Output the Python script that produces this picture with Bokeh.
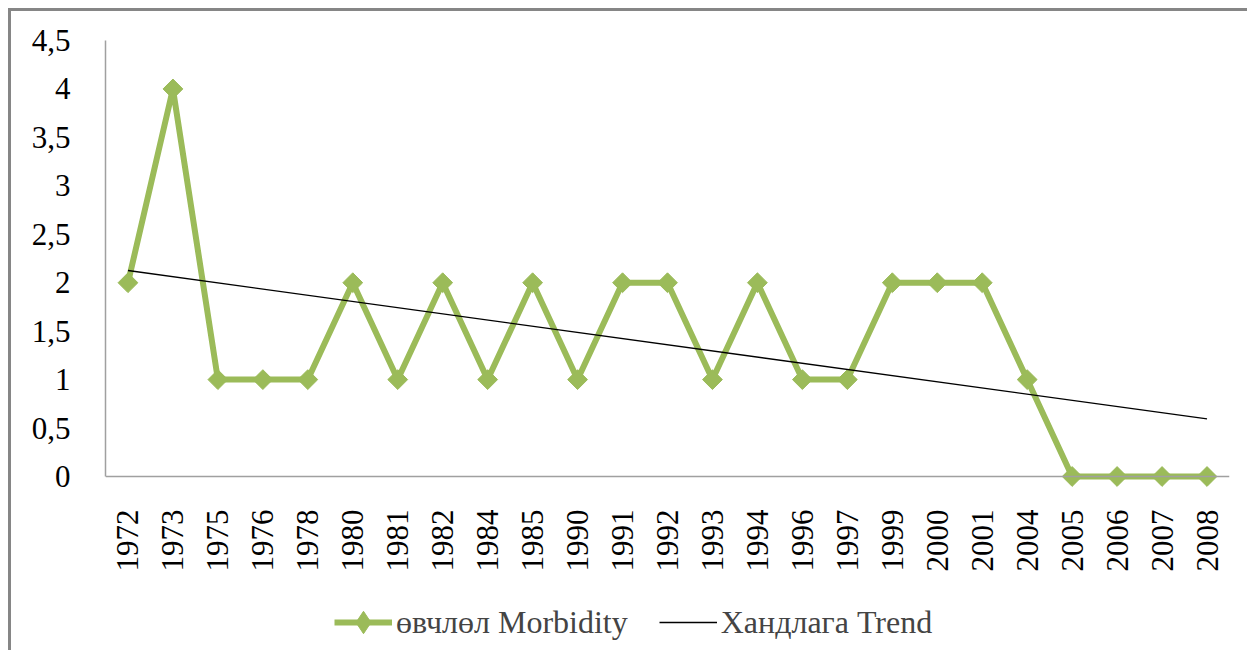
import numpy as np
from bokeh.plotting import figure
from bokeh.models import FactorRange, Range1d, FixedTicker, Legend, LegendItem, ColumnDataSource
from bokeh.embed import file_html
from bokeh.resources import INLINE

years = ["1972", "1973", "1975", "1976", "1978", "1980", "1981", "1982", "1984", "1985",
         "1990", "1991", "1992", "1993", "1994", "1996", "1997", "1999", "2000", "2001",
         "2004", "2005", "2006", "2007", "2008"]
morbidity = [2, 4, 1, 1, 1, 2, 1, 2, 1, 2, 1, 2, 2, 1, 2, 1, 1, 2, 2, 2, 1, 0, 0, 0, 0]
y_ticks = [0, 0.5, 1, 1.5, 2, 2.5, 3, 3.5, 4, 4.5]
y_tick_labels = ["0", "0,5", "1", "1,5", "2", "2,5", "3", "3,5", "4", "4,5"]
series_label = "өвчлөл Morbidity"
trend_label = "Хандлага Trend"

# linear trend (least squares over category index), as Excel's trendline
idx = np.arange(len(morbidity))
slope, intercept = np.polyfit(idx, morbidity, 1)
trend_x = [years[0], years[-1]]
trend_y = [intercept, intercept + slope * idx[-1]]

FONT = "Liberation Serif"
GREEN = "#9BBB59"

# layout: plot area of 436 px for 0..4.5, extended 174 px below zero for the
# category labels and the legend (x axis pinned at y = 0)
PLOT_H, BELOW_H = 436, 174
y_top = 4.5
y_bottom = -y_top * BELOW_H / PLOT_H

p = figure(x_range=FactorRange(*years, range_padding=0), y_range=Range1d(y_bottom, y_top),
           frame_width=1124, frame_height=PLOT_H + BELOW_H, output_backend="svg",
           toolbar_location=None,
           min_border_left=94, min_border_right=18, min_border_top=29, min_border_bottom=0)

p.styles = {"border-top": "3px solid #868686", "border-left": "3px solid #868686",
            "margin-left": "8px", "margin-top": "8px"}

src = ColumnDataSource(dict(x=years, y=morbidity))
ln = p.line("x", "y", source=src, line_color=GREEN, line_width=6)
mk = p.scatter("x", "y", source=src, marker="square", angle=np.pi / 4, size=14,
               fill_color=GREEN, line_color=GREEN)
# diamond shape used for the legend sample only (its single point is not drawn: y is NaN)
leg_src = ColumnDataSource(dict(x=[years[0]], y=[np.nan]))
mk_leg = p.scatter("x", "y", source=leg_src, marker="diamond", size=22,
                   fill_color=GREEN, line_color=GREEN)
tr = p.line(trend_x, trend_y, line_color="black", line_width=1.3)

p.xgrid.visible = False
p.ygrid.visible = False
p.outline_line_color = None
p.background_fill_color = "white"
p.border_fill_color = "white"

for ax in (p.xaxis[0], p.yaxis[0]):
    ax.axis_line_color = "#a0a0a0"
    ax.axis_line_width = 1.5
    ax.major_tick_line_color = None
    ax.minor_tick_line_color = None
    ax.major_label_text_font = FONT
    ax.major_label_text_font_size = "31px"
    ax.major_label_text_color = "black"

p.yaxis[0].ticker = FixedTicker(ticks=y_ticks)
p.yaxis[0].major_label_overrides = {t: l for t, l in zip(y_ticks, y_tick_labels)}
p.yaxis[0].major_label_standoff = 29
p.yaxis[0].bounds = (0, y_top)
p.xaxis[0].fixed_location = 0
p.xaxis[0].major_label_orientation = np.pi / 2
p.xaxis[0].major_label_standoff = 27
p.xaxis[0].group_text_font_size = "0px"

legend = Legend(items=[LegendItem(label=series_label, renderers=[ln, mk_leg]),
                       LegendItem(label=trend_label, renderers=[tr])],
                orientation="horizontal", location=(229, 0),
                label_text_font=FONT, label_text_font_size="32px",
                glyph_width=58, glyph_height=56, label_standoff=4, spacing=31,
                padding=0, margin=0, border_line_color=None, background_fill_alpha=0)
p.add_layout(legend, "center")

open("out.html", "w").write(file_html(p, INLINE))
